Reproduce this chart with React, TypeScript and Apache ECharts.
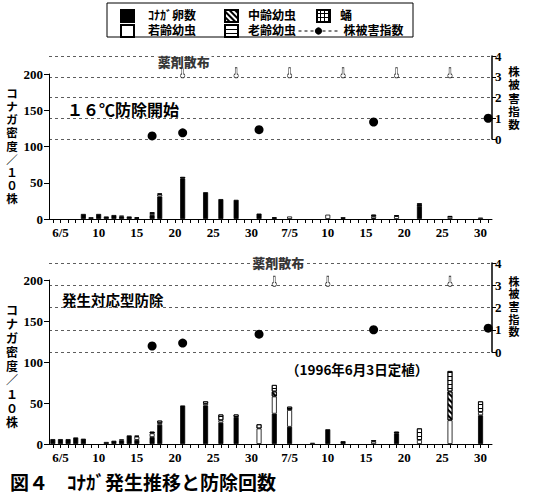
import React, { useEffect, useRef } from 'react';
import * as echarts from 'echarts';

// ---- data ----
const FIRST_DAY = 4; // 6/4
const LAST_DAY = 61; // 7/31
const topDays = [8, 9, 10, 11, 12, 13, 14, 15, 17, 18, 21, 24, 26, 28, 31, 33, 35, 40, 42, 46, 49, 52, 56, 60];
const topEgg = [7, 2.5, 7, 3.5, 5.5, 3.5, 3.5, 1.5, 5.5, 31, 56, 37, 27.5, 26.5, 7.5, 1.5, 0, 0, 1, 1, 0, 18, 0, 0];
const topYoung = [0, 0, 0, 0, 0, 1, 0, 1, 2.5, 3, 0, 0, 0, 0, 0, 1, 3.5, 6, 1.5, 3, 4, 0, 3, 2];
const topMid = [0, 0, 0, 0, 0, 0, 0, 0, 0, 0, 0, 0, 0, 0, 0, 0, 0, 0, 0, 0, 0, 2, 0, 0];
const topOld = [0, 0, 0, 0, 0, 0, 0, 0, 0.8, 1, 2, 0, 0, 0, 0, 0, 0, 0, 0, 2, 1, 1.5, 1, 0];
const topPupa = [0, 0, 0, 0, 0, 0, 0, 0, 0, 0, 0, 0, 0, 0, 0, 0, 0, 0, 0, 0, 0, 0, 0, 0];
const topIdxDays = [17, 21, 31, 46, 61];
const topIdx = [0.15, 0.3, 0.45, 0.82, 1.0];
const topSpray = [21, 28, 35, 42, 49, 56];

const botDays = [4, 5, 6, 7, 8, 11, 12, 13, 14, 15, 17, 18, 21, 24, 26, 28, 31, 33, 35, 38, 40, 42, 46, 49, 52, 56, 60];
const botEgg = [6, 6, 6, 8, 6.5, 2.5, 4, 4.5, 10.5, 5, 8.5, 23.5, 47, 47, 26, 33, 0, 37, 21, 0, 18, 3.5, 0, 13, 0, 0, 35];
const botYoung = [0, 0, 0, 0, 0, 0, 0, 1.2, 0, 4, 4.5, 2, 0, 2, 3, 0, 19, 21, 20.5, 1.5, 0, 0, 3, 0, 5, 29, 4];
const botMid = [0, 0, 0, 0, 0, 0, 0, 0, 0, 0, 0, 0, 0, 0, 0, 0, 0, 6, 0, 0, 0, 0, 0, 0, 0, 35, 0];
const botOld = [0, 0, 0, 0, 0, 0, 0, 0, 0, 1, 2, 3, 0, 3, 7, 3, 5, 8, 4, 0, 0, 0, 1.5, 2, 14, 25, 13];
const botPupa = [0, 0, 0, 0, 0, 0, 0, 0, 0, 0, 0, 0, 0, 0, 0, 0, 0, 0, 0, 0, 0, 0, 0, 0, 0, 0, 0];
const botIdxDays = [17, 21, 31, 46, 61];
const botIdx = [0.27, 0.4, 0.8, 1.0, 1.07];
const botSpray = [33, 40, 56];

const SPRAY_LEVEL = 3;
const LABEL_LEVEL = 4;
const leftTicks = { min: 0, max: 200, interval: 50 };
const rightTicks = { min: 0, max: 4, interval: 1 };

const JP = "'Noto Sans CJK JP', sans-serif";
const NUM = "'Liberation Serif', serif";
const VJP = "'Liberation Sans', 'Noto Sans CJK JP', sans-serif";

const CATS: string[] = [];
for (let d = FIRST_DAY; d <= LAST_DAY; d++) CATS.push(String(d));

function toSeries(days: number[], vals: number[]) {
  return CATS.map((c) => {
    const i = days.indexOf(+c);
    return i >= 0 && vals[i] > 0 ? vals[i] : '-';
  });
}

function dom(v: string) {
  const d = +v;
  return d <= 30 ? d : d - 30;
}

const border = { borderColor: '#000', borderWidth: 0.8 };
const STYLES: Record<string, any> = {
  egg: { color: '#000', ...border },
  young: { color: '#fff', ...border },
  mid: {
    color: '#fff', ...border,
    decal: { symbol: 'rect', symbolSize: 1, dashArrayX: [1, 0], dashArrayY: [2, 2], rotation: Math.PI / 4, color: '#000' },
  },
  old: {
    color: '#fff', ...border,
    decal: { symbol: 'rect', symbolSize: 1, dashArrayX: [1, 0], dashArrayY: [1, 3], rotation: 0, color: '#000' },
  },
  pupa: {
    color: '#000', ...border,
    decal: { symbol: 'rect', symbolSize: 1, dashArrayX: [3, 1], dashArrayY: [3, 1], rotation: 0, color: '#fff' },
  },
};
const NAMES: Record<string, string> = {
  egg: 'ｺﾅｶﾞ卵数', young: '若齢幼虫', mid: '中齢幼虫', old: '老齢幼虫', pupa: '蛹',
};

const BULB = 'path://M1.6,0 L3.4,0 L3.4,7 A2.3,2.3 0 1,1 1.6,7 Z';

function panel(stack: string, xi: number, yi: number, xi2: number, yi2: number, days: number[],
  parts: Record<string, number[]>, idxDays: number[], idx: number[], spray: number[],
  labelDay: number, labelOffset: number[]) {
  const s: any[] = [];
  ['egg', 'young', 'mid', 'old', 'pupa'].forEach((k) => {
    s.push({
      type: 'bar', name: NAMES[k], stack, xAxisIndex: xi, yAxisIndex: yi, barWidth: 5,
      data: toSeries(days, parts[k]), itemStyle: STYLES[k], silent: true,
    });
  });
  s.push({
    type: 'line', name: '株被害指数', xAxisIndex: xi2, yAxisIndex: yi2,
    data: toSeries(idxDays, idx), symbol: 'circle', symbolSize: 9, showSymbol: true, showAllSymbol: true,
    itemStyle: { color: '#000' }, lineStyle: { opacity: 0, width: 0 }, z: 5, silent: true,
  });
  s.push({
    type: 'scatter', xAxisIndex: xi2, yAxisIndex: yi2,
    data: spray.map((d) => [String(d), SPRAY_LEVEL]), symbol: BULB, symbolSize: [4.5, 10],
    symbolOffset: [0, -4], itemStyle: { color: '#fff', borderColor: '#000', borderWidth: 0.8 }, silent: true,
  });
  s.push({
    type: 'scatter', xAxisIndex: xi2, yAxisIndex: yi2,
    data: [[String(labelDay), LABEL_LEVEL]], symbolSize: 1, itemStyle: { color: '#fff' }, silent: true, z: 6,
    label: {
      show: true, formatter: '薬剤散布', position: 'inside', offset: labelOffset,
      backgroundColor: '#fff', padding: [1, 2], fontFamily: JP, fontWeight: 900, fontSize: 13, color: '#000',
      textBorderWidth: 0,
    },
  });
  return s;
}

function xAxis(gridIndex: number, show: boolean) {
  return {
    type: 'category', gridIndex, data: CATS, boundaryGap: true, show,
    axisLine: { show: true, lineStyle: { color: '#000', width: 1 } },
    axisTick: { show: true, interval: 0, alignWithLabel: true, length: 4, lineStyle: { color: '#000' } },
    axisLabel: {
      interval: (_i: number, v: string) => dom(v) % 5 === 0,
      formatter: (v: string) => (dom(v) === 5 ? `${+v <= 30 ? 6 : 7}/5` : String(dom(v))),
      fontFamily: NUM, fontWeight: 'bold', fontSize: 13, color: '#000', margin: 7,
    },
    splitLine: { show: false },
  };
}

function yLeft(gridIndex: number) {
  return {
    type: 'value', gridIndex, ...leftTicks,
    axisLine: { show: true, lineStyle: { color: '#000', width: 1 } },
    axisTick: { show: true, length: 5, lineStyle: { color: '#000' } },
    axisLabel: { fontFamily: NUM, fontWeight: 'bold', fontSize: 13, color: '#000', margin: 6 },
    splitLine: { show: false },
  };
}

function yRight(gridIndex: number) {
  return {
    type: 'value', gridIndex, position: 'right', ...rightTicks,
    axisLine: { show: true, lineStyle: { color: '#000', width: 1.5 } },
    axisTick: { show: true, length: 4, lineStyle: { color: '#000' } },
    axisLabel: { fontFamily: NUM, fontWeight: 'bold', fontSize: 13, color: '#000', margin: 3 },
    splitLine: { show: true, lineStyle: { color: '#333', width: 0.8, type: [3, 3] } },
  };
}

function legendItem(name: string, left: number, top: number, pad: number, extra: any = {}) {
  return {
    data: [name], left, top, padding: 0, itemGap: 0, selectedMode: false,
    itemWidth: 13, itemHeight: 12, icon: 'rect',
    textStyle: { fontFamily: VJP, fontWeight: 'bold', fontSize: 12, color: '#000', padding: [0, 0, 0, pad] },
    ...extra,
  };
}

function vtext(chars: string[], x: number, yCenter: number, step: number, size: number) {
  const n = chars.length;
  return chars.map((c, i) => ({
    type: 'text', x, y: yCenter + (i - (n - 1) / 2) * step, silent: true,
    style: {
      text: c, align: 'center', verticalAlign: 'middle', textAlign: 'center', textVerticalAlign: 'middle',
      font: `bold ${size}px ${VJP}`, fill: '#000', lineHeight: step - 0.5,
    },
  }));
}

const LEFT_NAME = ['コ', 'ナ', 'ガ', '密', '度', '／', '１', '０', '株'];
const RIGHT_NAME = ['株', '被', '害', '指', '数'];

export default function App() {
  const ref = useRef<HTMLDivElement>(null);
  useEffect(() => {
    if (!ref.current) return;
    const chart = echarts.init(ref.current, null, { renderer: 'svg' });
    const option: any = {
      animation: false,
      backgroundColor: '#fff',
      textStyle: { fontFamily: JP },
      grid: [
        { left: 49, right: 42, top: 74, height: 145 },
        { left: 49, right: 42, top: 56, height: 83 },
        { left: 49, right: 42, top: 280, height: 164 },
        { left: 49, right: 42, top: 263, height: 89 },
      ],
      xAxis: [xAxis(0, true), xAxis(1, false), xAxis(2, true), xAxis(3, false)],
      yAxis: [yLeft(0), yRight(1), yLeft(2), yRight(3)],
      legend: [
        legendItem('ｺﾅｶﾞ卵数', 120, 9, 9),
        legendItem('若齢幼虫', 120, 24, 9),
        legendItem('中齢幼虫', 224, 9, 5),
        legendItem('老齢幼虫', 224, 24, 5),
        legendItem('蛹', 316, 9, 5),
        {
          data: ['株被害指数'], left: 298, top: 25, padding: 0, itemGap: 0, selectedMode: false,
          itemWidth: 40, itemHeight: 9,
          lineStyle: { type: [3, 3], color: '#000', width: 1, opacity: 1 },
          itemStyle: { color: '#000' },
          textStyle: { fontFamily: VJP, fontWeight: 'bold', fontSize: 12, color: '#000' },
        },
      ],
      series: [
        ...panel('top', 0, 0, 1, 1, topDays,
          { egg: topEgg, young: topYoung, mid: topMid, old: topOld, pupa: topPupa },
          topIdxDays, topIdx, topSpray, 21, [1, 5]),
        ...panel('bot', 2, 2, 3, 3, botDays,
          { egg: botEgg, young: botYoung, mid: botMid, old: botOld, pupa: botPupa },
          botIdxDays, botIdx, botSpray, 33, [4, -1]),
      ],
      graphic: [
        { type: 'rect', shape: { x: 107, y: 3, width: 306, height: 34 }, style: { fill: 'none', stroke: '#000', lineWidth: 1 }, silent: true },
        ...vtext(LEFT_NAME, 12, 146.5, 13.1, 11.5),
        ...vtext(LEFT_NAME, 12, 366.5, 14, 12),
        ...vtext(RIGHT_NAME, 514, 98.5, 13.2, 11.5),
        ...vtext(RIGHT_NAME, 514, 307, 12.6, 11),
        { type: 'text', x: 67, y: 108.5, silent: true, style: { text: '１６℃防除開始', font: `bold 16px ${JP}`, fill: '#000', verticalAlign: 'middle', textVerticalAlign: 'middle' } },
        { type: 'text', x: 62, y: 299, silent: true, style: { text: '発生対応型防除', font: `bold 14.5px ${JP}`, fill: '#000', verticalAlign: 'middle', textVerticalAlign: 'middle' } },
        { type: 'text', x: 286, y: 368.5, silent: true, style: { text: '（1996年6月3日定植）', font: `bold 13.5px ${JP}`, fill: '#000', verticalAlign: 'middle', textVerticalAlign: 'middle' } },
        { type: 'text', x: 10, y: 481, silent: true, style: { text: '図４　ｺﾅｶﾞ発生推移と防除回数', font: `bold 19px ${JP}`, fill: '#000', verticalAlign: 'middle', textVerticalAlign: 'middle' } },
      ],
    };
    chart.setOption(option);
    return () => chart.dispose();
  }, []);
  return <div ref={ref} style={{ position: 'absolute', left: 0, top: 0, width: 534, height: 496, background: '#fff' }} />;
}
